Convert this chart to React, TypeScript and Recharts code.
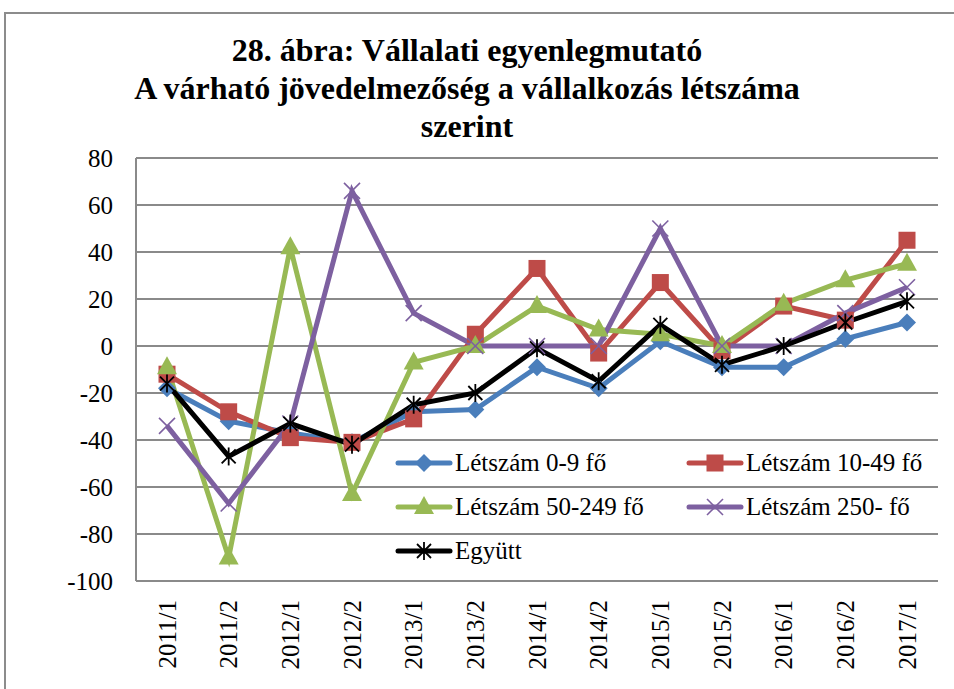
import React from 'react'
import { LineChart, Line, XAxis, YAxis, CartesianGrid, Legend } from 'recharts'

// Periods (half-years) and balance values
const periods = [
  '2011/1', '2011/2', '2012/1', '2012/2', '2013/1', '2013/2', '2014/1',
  '2014/2', '2015/1', '2015/2', '2016/1', '2016/2', '2017/1',
]
const letszam0_9 = [-18, -32, -37, -41, -28, -27, -9, -18, 2, -9, -9, 3, 10]
const letszam10_49 = [-12, -28, -39, -41, -31, 5, 33, -3, 27, -2, 17, 11, 45]
const letszam50_249 = [-9, -90, 42, -63, -7, 0, 17, 7, 5, 0, 18, 28, 35]
const letszam250 = [-34, -67, -33, 66, 14, 0, 0, 0, 50, 0, 0, 14, 25]
const egyutt = [-16, -47, -33, -42, -25, -20, -1, -15, 9, -8, 0, 10, 19]
const yTicks = [-100, -80, -60, -40, -20, 0, 20, 40, 60, 80]

const FONT = '"Liberation Serif", "Times New Roman", serif'
const GRID = '#8a8a8a'

type Shape = 'diamond' | 'square' | 'triangle' | 'x' | 'star'

const SERIES: { key: string; label: string; color: string; shape: Shape }[] = [
  { key: 's0', label: 'Létszám 0-9 fő', color: '#4a7ebb', shape: 'diamond' },
  { key: 's1', label: 'Létszám 10-49 fő', color: '#be4b48', shape: 'square' },
  { key: 's2', label: 'Létszám 50-249 fő', color: '#98b954', shape: 'triangle' },
  { key: 's3', label: 'Létszám 250- fő', color: '#7d60a0', shape: 'x' },
  { key: 's4', label: 'Együtt', color: '#000000', shape: 'star' },
]

const data = periods.map((p, i) => ({
  period: p,
  s0: letszam0_9[i],
  s1: letszam10_49[i],
  s2: letszam50_249[i],
  s3: letszam250[i],
  s4: egyutt[i],
}))

function Marker({ shape, cx, cy, color }: { shape: Shape; cx: number; cy: number; color: string }) {
  switch (shape) {
    case 'diamond':
      return <polygon points={`${cx},${cy - 9} ${cx + 9},${cy} ${cx},${cy + 9} ${cx - 9},${cy}`} fill={color} />
    case 'square':
      return <rect x={cx - 8.5} y={cy - 8.5} width={17} height={17} fill={color} />
    case 'triangle':
      return <polygon points={`${cx},${cy - 11} ${cx + 10},${cy + 7} ${cx - 10},${cy + 7}`} fill={color} />
    case 'x':
      return (
        <g stroke={color} strokeWidth={1.6}>
          <line x1={cx - 8} y1={cy - 8} x2={cx + 8} y2={cy + 8} />
          <line x1={cx - 8} y1={cy + 8} x2={cx + 8} y2={cy - 8} />
        </g>
      )
    default:
      return (
        <g stroke={color} strokeWidth={1.8}>
          <line x1={cx - 7} y1={cy - 7} x2={cx + 7} y2={cy + 7} />
          <line x1={cx - 7} y1={cy + 7} x2={cx + 7} y2={cy - 7} />
          <line x1={cx} y1={cy - 9} x2={cx} y2={cy + 9} />
        </g>
      )
  }
}

function XTick(props: any) {
  const { x, y, payload } = props
  const ty = y + 11
  return (
    <text
      x={x}
      y={ty}
      transform={`rotate(-90, ${x}, ${ty})`}
      textAnchor="end"
      dy="0.35em"
      fontSize={25}
      fontFamily={FONT}
      fill="#000"
    >
      {payload.value}
    </text>
  )
}

function LegendBox() {
  return (
    <div style={{ display: 'flex', flexWrap: 'wrap', width: 582, fontFamily: FONT, fontSize: 25, color: '#000' }}>
      {SERIES.map(s => (
        <div key={s.key} style={{ width: 291, height: 44, display: 'flex', alignItems: 'center' }}>
          <svg width={58} height={24} style={{ flex: 'none' }}>
            <line x1={3} y1={12} x2={55} y2={12} stroke={s.color} strokeWidth={5} strokeLinecap="round" />
            <Marker shape={s.shape} cx={29} cy={12} color={s.color} />
          </svg>
          <span style={{ marginLeft: 2, whiteSpace: 'nowrap' }}>{s.label}</span>
        </div>
      ))}
    </div>
  )
}

export default function App() {
  return (
    <div style={{ position: 'fixed', left: 0, top: 0, width: 954, height: 689, background: '#fff', overflow: 'hidden' }}>
      <div
        style={{
          position: 'absolute', left: 4, top: 12, width: 950, height: 677,
          borderTop: '2px solid #8c8c8c', borderLeft: '2px solid #8c8c8c', boxSizing: 'border-box',
        }}
      />
      <div
        style={{
          position: 'absolute', left: 0, top: 31, width: 934, textAlign: 'center',
          fontFamily: FONT, fontWeight: 'bold', fontSize: 32, lineHeight: '38px', color: '#000',
        }}
      >
        28. ábra: Vállalati egyenlegmutató<br />
        A várható jövedelmezőség a vállalkozás létszáma<br />
        szerint
      </div>
      <div style={{ position: 'absolute', left: 0, top: 0 }}>
        <LineChart width={954} height={689} data={data} margin={{ top: 158, right: 16, bottom: 8, left: 0 }}>
          <CartesianGrid vertical={false} stroke={GRID} strokeWidth={2} />
          <XAxis
            dataKey="period"
            height={100}
            interval={0}
            padding={{ left: 31, right: 31 }}
            tick={<XTick />}
            tickLine={false}
            axisLine={{ stroke: GRID, strokeWidth: 2 }}
          />
          <YAxis
            width={136}
            domain={[-100, 80]}
            ticks={yTicks}
            interval={0}
            tickLine={false}
            tickMargin={17}
            axisLine={{ stroke: GRID, strokeWidth: 2 }}
            tick={{ fontSize: 25, fontFamily: FONT, fill: '#000' }}
          />
          <Legend
            layout="horizontal"
            verticalAlign="middle"
            align="center"
            content={() => <LegendBox />}
            wrapperStyle={{ position: 'absolute', left: 395, top: 441, width: 582 }}
          />
          {SERIES.map(s => (
            <Line
              key={s.key}
              dataKey={s.key}
              name={s.label}
              type="linear"
              stroke={s.color}
              strokeWidth={5}
              isAnimationActive={false}
              dot={(p: any) => (
                <Marker key={`${s.key}-${p.index}`} shape={s.shape} cx={p.cx} cy={p.cy} color={s.color} />
              )}
              activeDot={false}
            />
          ))}
        </LineChart>
      </div>
    </div>
  )
}
